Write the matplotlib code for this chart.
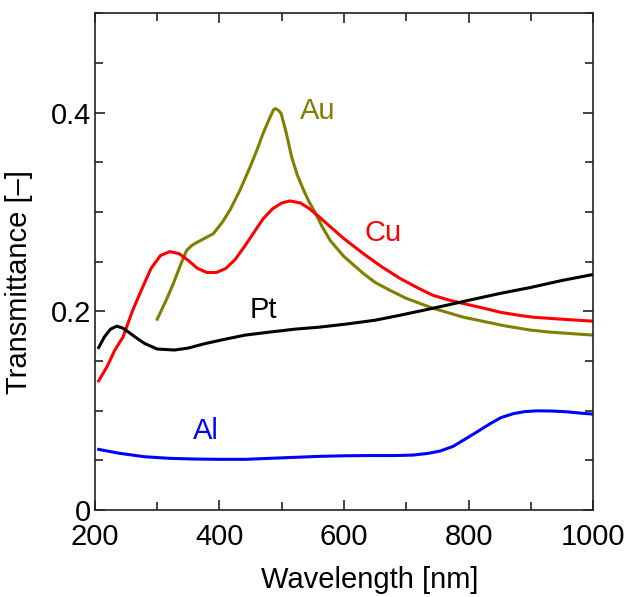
import matplotlib
matplotlib.use("Agg")
import matplotlib.pyplot as plt
from matplotlib.ticker import MultipleLocator

plt.rcParams['font.family'] = ['Liberation Sans', 'DejaVu Sans']

# values
au_wl = [300, 315, 326, 337, 347, 355, 363, 375, 390, 405, 417, 433, 449, 460, 470, 481, 487, 490, 495, 499,
         507, 516, 525, 535, 544, 553, 565, 578, 600, 631, 650, 674, 700, 743, 792, 830, 861, 900, 931, 1000]
au_t = [0.192, 0.212, 0.228, 0.246, 0.261, 0.266, 0.269, 0.273, 0.278, 0.290, 0.302, 0.322, 0.345, 0.362, 0.379, 0.395, 0.403, 0.404, 0.402, 0.399,
        0.380, 0.355, 0.337, 0.322, 0.310, 0.300, 0.285, 0.271, 0.255, 0.238, 0.229, 0.221, 0.213, 0.203, 0.194, 0.189, 0.185, 0.181, 0.179, 0.176]

cu_wl = [206, 220, 232, 245, 260, 275, 290, 305, 320, 335, 350, 365, 380, 395, 410, 425, 440, 455, 470, 485,
         500, 513, 530, 545, 560, 578, 600, 631, 660, 690, 720, 743, 770, 797, 825, 851, 880, 904, 950, 1000]
cu_t = [0.130, 0.145, 0.161, 0.174, 0.200, 0.222, 0.243, 0.256, 0.260, 0.258, 0.251, 0.243, 0.239, 0.239, 0.243, 0.252, 0.265, 0.279, 0.293, 0.303,
        0.309, 0.311, 0.309, 0.303, 0.295, 0.285, 0.273, 0.258, 0.245, 0.233, 0.223, 0.216, 0.211, 0.207, 0.203, 0.199, 0.196, 0.194, 0.192, 0.190]

pt_wl = [206, 215, 225, 235, 245, 254, 267, 280, 300, 328, 350, 377, 410, 441, 480, 521, 560, 602, 650, 690,
         750, 800, 851, 900, 950, 1000]
pt_t = [0.1635, 0.174, 0.182, 0.185, 0.183, 0.179, 0.173, 0.1675, 0.162, 0.161, 0.163, 0.1675, 0.172, 0.176, 0.179, 0.182, 0.184, 0.187, 0.191, 0.196,
        0.204, 0.211, 0.218, 0.224, 0.231, 0.237]

al_wl = [206, 240, 280, 320, 361, 400, 441, 480, 521, 560, 602, 640, 682, 711, 735, 754, 775, 792, 812, 835,
         852, 872, 890, 910, 935, 958, 980, 1000]
al_t = [0.061, 0.057, 0.0536, 0.052, 0.0513, 0.051, 0.051, 0.052, 0.053, 0.054, 0.0546, 0.0548, 0.0548, 0.0553, 0.057, 0.0593, 0.064, 0.0704, 0.078, 0.087,
        0.093, 0.097, 0.099, 0.0998, 0.0996, 0.0988, 0.0975, 0.0965]

fig = plt.figure(figsize=(6.33, 5.97), dpi=100)
ax = fig.add_axes([0.150, 0.1457, 0.787, 0.8323])

ax.plot(au_wl, au_t, color='#808000', lw=2.2)
ax.plot(cu_wl, cu_t, color='red', lw=2.2)
ax.plot(pt_wl, pt_t, color='black', lw=2.2)
ax.plot(al_wl, al_t, color='blue', lw=2.2)

ax.text(557, 0.402, 'Au', color='#808000', fontsize=21, ha='center', va='center')
ax.text(662, 0.279, 'Cu', color='red', fontsize=21, ha='center', va='center')
ax.text(471, 0.201, 'Pt', color='black', fontsize=21, ha='center', va='center')
ax.text(378, 0.080, 'Al', color='blue', fontsize=21, ha='center', va='center')

ax.set_xlim(200, 1000)
ax.set_ylim(0, 0.5)
ax.xaxis.set_major_locator(MultipleLocator(200))
ax.xaxis.set_minor_locator(MultipleLocator(100))
ax.yaxis.set_major_locator(MultipleLocator(0.2))
ax.yaxis.set_minor_locator(MultipleLocator(0.05))
ax.set_yticklabels(['0' if v == 0 else f'{v:.1f}' for v in ax.get_yticks()])
ax.tick_params(which='both', direction='in', top=True, right=True, labelsize=21, color='#222222')
ax.tick_params(which='major', length=7, width=1.2)
ax.tick_params(which='minor', length=6, width=1.2)
ax.tick_params(axis='x', which='major', pad=9)
ax.tick_params(axis='y', which='major', pad=3)
for s in ax.spines.values():
    s.set_linewidth(1.2)
    s.set_color('#222222')

ax.set_xlabel('Wavelength [nm]', fontsize=21)
ax.set_ylabel('Transmittance [–]', fontsize=21)
ax.xaxis.set_label_coords(0.552, -0.112)
ax.yaxis.set_label_coords(-0.125, 0.459)

fig.savefig('out.png', dpi=100)
